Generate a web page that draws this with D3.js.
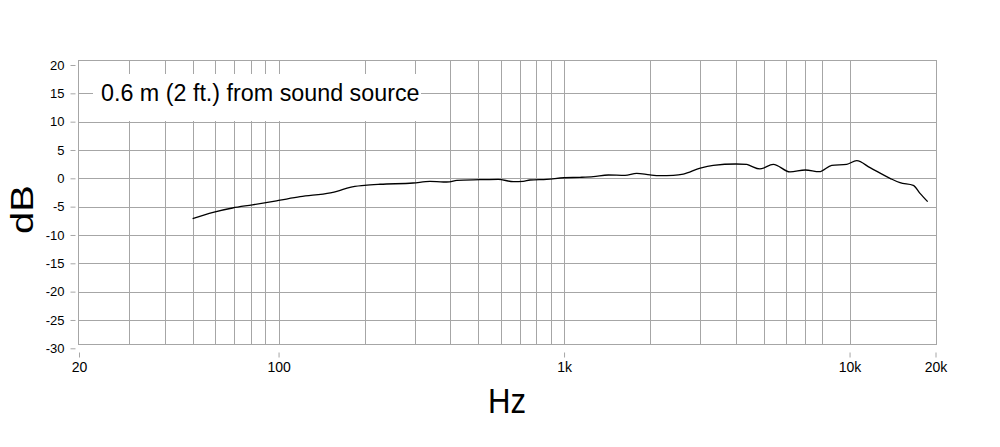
<!DOCTYPE html>
<html>
<head>
<meta charset="utf-8">
<script src="https://cdn.jsdelivr.net/npm/d3@7"></script>
<style>
  body { margin: 0; background: #fff; }
  svg { display: block; font-family: "Liberation Sans", Arial, Helvetica, sans-serif; }
</style>
</head>
<body>
<svg width="1000" height="447"></svg>
<script>
// frequency response
const freqs = [50, 59, 69, 81, 100, 119, 152, 160, 178, 200, 227, 296, 339, 378, 397, 421, 508, 588,
  664, 719, 760, 869, 1000, 1137, 1266, 1429, 1635, 1796, 2000, 2168, 2414, 2617, 3000, 3331, 4000,
  4363, 4481, 4853, 5407, 6186, 7000, 7834, 8660, 9772, 10590, 11795, 13855, 15020, 16720, 17650, 18780];
const levels = [-7.1, -6.0, -5.24, -4.68, -3.9, -3.24, -2.55, -2.3, -1.58, -1.25, -1.05, -0.83, -0.55,
  -0.65, -0.62, -0.35, -0.24, -0.17, -0.6, -0.53, -0.3, -0.17, 0.1, 0.18, 0.3, 0.59, 0.53, 0.88, 0.59,
  0.47, 0.53, 0.76, 1.82, 2.3, 2.53, 2.47, 2.24, 1.65, 2.47, 1.12, 1.47, 1.17, 2.3, 2.47, 3.11, 1.88,
  0.0, -0.78, -1.24, -2.65, -4.12];

const dbTicks = [20, 15, 10, 5, 0, -5, -10, -15, -20, -25, -30];
const dbGrid = [15, 10, 5, 0, -5, -10, -15, -20, -25];
const hzTicks = [20, 100, 1000, 10000, 20000];
const hzLabels = ["20", "100", "1k", "10k", "20k"];
const hzGrid = [30, 40, 50, 60, 70, 80, 90, 100, 200, 300, 400, 500, 600, 700, 800, 900,
  1000, 2000, 3000, 4000, 5000, 6000, 7000, 8000, 10000];
const note = "0.6 m (2 ft.) from sound source";

const svg = d3.select("svg");
const x = d3.scaleLog().domain([20, 20000]).range([79, 935.5]);
const y = d3.scaleLinear().domain([-30, 20]).range([348.3, 65]);

const gridColor = "#a6a6a6";

// plot frame (sits a little above/below the end ticks, like the original)
const frameL = Math.round(x(20)) - 0.5;
const frameR = Math.round(x(20000)) + 0.5;
const frameT = Math.round(y(20)) - 4.5;
const frameB = Math.round(y(-30)) - 3.5;

const grid = svg.append("g").attr("shape-rendering", "crispEdges");

grid.selectAll(".hline").data(dbGrid).enter().append("line")
  .attr("x1", frameL).attr("x2", frameR)
  .attr("y1", d => Math.round(y(d)) + 0.5).attr("y2", d => Math.round(y(d)) + 0.5)
  .attr("stroke", gridColor);

grid.selectAll(".vline").data(hzGrid).enter().append("line")
  .attr("x1", d => Math.round(x(d)) + 0.5).attr("x2", d => Math.round(x(d)) + 0.5)
  .attr("y1", frameT).attr("y2", frameB)
  .attr("stroke", gridColor);

grid.append("rect")
  .attr("x", frameL).attr("y", frameT)
  .attr("width", frameR - frameL).attr("height", frameB - frameT)
  .attr("fill", "none").attr("stroke", gridColor);

// label box on top of the grid
const labelG = svg.append("g");
labelG.append("rect")
  .attr("x", 93).attr("y", 74).attr("width", 328).attr("height", 47)
  .attr("fill", "#fff");
labelG.append("text")
  .attr("x", 101).attr("y", 100.7)
  .attr("font-size", 23.3)
  .attr("fill", "#000")
  .text(note);

// y axis (plain hyphen for negatives, as in the original)
const yAxis = svg.append("g")
  .attr("transform", "translate(75.5,0)")
  .call(d3.axisLeft(y).tickValues(dbTicks).tickSize(5).tickPadding(6)
    .tickFormat(d => String(d)));
yAxis.select(".domain").remove();
yAxis.selectAll("line").attr("stroke", gridColor);
yAxis.selectAll("text").attr("font-size", 13).attr("font-family", "Liberation Sans, Arial, sans-serif").attr("fill", "#000");

// x axis
const xAxis = svg.append("g")
  .attr("transform", "translate(0,352.5)")
  .call(d3.axisBottom(x).tickValues(hzTicks).tickSize(5).tickPadding(4.5)
    .tickFormat((d, i) => hzLabels[i]));
xAxis.select(".domain").remove();
xAxis.selectAll("line").attr("stroke", gridColor);
xAxis.selectAll("text").attr("font-size", 14).attr("font-family", "Liberation Sans, Arial, sans-serif").attr("fill", "#000");

// response curve
const line = d3.line()
  .x((d, i) => x(freqs[i]))
  .y(d => y(d))
  .curve(d3.curveMonotoneX);

svg.append("path")
  .datum(levels)
  .attr("d", line)
  .attr("fill", "none")
  .attr("stroke", "#000")
  .attr("stroke-width", 1.3)
  .attr("stroke-linejoin", "round");

// axis titles
svg.append("text")
  .attr("x", 507).attr("y", 413)
  .attr("text-anchor", "middle")
  .attr("font-size", 35)
  .attr("textLength", 38).attr("lengthAdjust", "spacingAndGlyphs")
  .text("Hz");

svg.append("text")
  .attr("transform", "translate(32.5,209.5) rotate(-90)")
  .attr("text-anchor", "middle")
  .attr("font-size", 31)
  .attr("textLength", 49).attr("lengthAdjust", "spacingAndGlyphs")
  .text("dB");
</script>
</body>
</html>
